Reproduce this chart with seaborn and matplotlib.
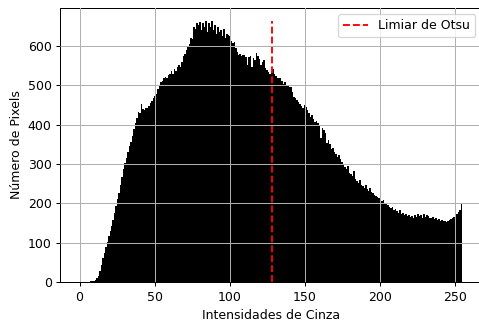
import numpy as np
import matplotlib
matplotlib.use("Agg")
import matplotlib.pyplot as plt
import seaborn as sns

intensities = np.arange(256)
counts = [
    0, 0, 0, 0, 0, 0, 1, 2, 2, 3,
    5, 9, 16, 28, 44, 60, 75, 90, 103, 118,
    130, 142, 158, 176, 194, 210, 226, 248, 266, 288,
    302, 315, 330, 345, 356, 372, 390, 405, 418, 432,
    430, 452, 440, 438, 444, 442, 448, 455, 460, 468,
    474, 478, 490, 502, 508, 512, 520, 522, 518, 526,
    530, 536, 528, 542, 538, 548, 552, 546, 560, 574,
    580, 590, 598, 606, 622, 618, 650, 644, 660, 655,
    662, 640, 658, 650, 664, 635, 660, 648, 664, 642,
    655, 630, 648, 636, 640, 625, 645, 620, 632, 628,
    626, 612, 608, 610, 595, 585, 578, 580, 576, 578,
    577, 573, 552, 572, 575, 548, 570, 566, 583, 575,
    568, 552, 560, 564, 545, 540, 534, 530, 536, 543,
    528, 524, 520, 518, 520, 512, 505, 508, 500, 502,
    495, 497, 484, 471, 468, 464, 458, 452, 447, 442,
    450, 446, 438, 430, 420, 425, 415, 408, 410, 404,
    399, 366, 392, 386, 380, 353, 362, 350, 338, 340,
    330, 326, 318, 322, 312, 305, 300, 292, 288, 296,
    278, 274, 270, 282, 262, 256, 252, 260, 248, 244,
    240, 246, 236, 232, 238, 228, 226, 222, 220, 216,
    214, 210, 206, 208, 200, 198, 196, 192, 188, 190,
    184, 186, 180, 176, 182, 172, 176, 170, 172, 168,
    170, 166, 168, 164, 170, 166, 172, 168, 170, 164,
    172, 166, 170, 168, 164, 162, 166, 160, 162, 158,
    160, 156, 158, 154, 156, 152, 156, 158, 160, 162,
    166, 168, 172, 178, 184, 198,
]
otsu_threshold = 128
threshold_label = "Limiar de Otsu"
xlabel = "Intensidades de Cinza"
ylabel = "Número de Pixels"

W, H = 479, 322
DPI = 90
fig = plt.figure(figsize=(W / DPI, H / DPI), dpi=DPI)
ax = fig.add_axes([60.5 / W, 40 / H, 420.75 / W, 274 / H])

sns.histplot(x=intensities, weights=counts, bins=256, binrange=(0, 255),
             color="black", alpha=1, linewidth=0, ax=ax)
ax.vlines(otsu_threshold, 0, max(counts), colors="red", linestyles="--",
          label=threshold_label)

ax.set_xlim(-12.75, 267.75)
ax.set_ylim(0, max(counts) * 1.05)
ax.set_xlabel(xlabel)
ax.set_ylabel(ylabel)
ax.grid(True)
ax.set_axisbelow(False)
ax.legend(loc="upper right")

fig.savefig("out.png", dpi=DPI)
